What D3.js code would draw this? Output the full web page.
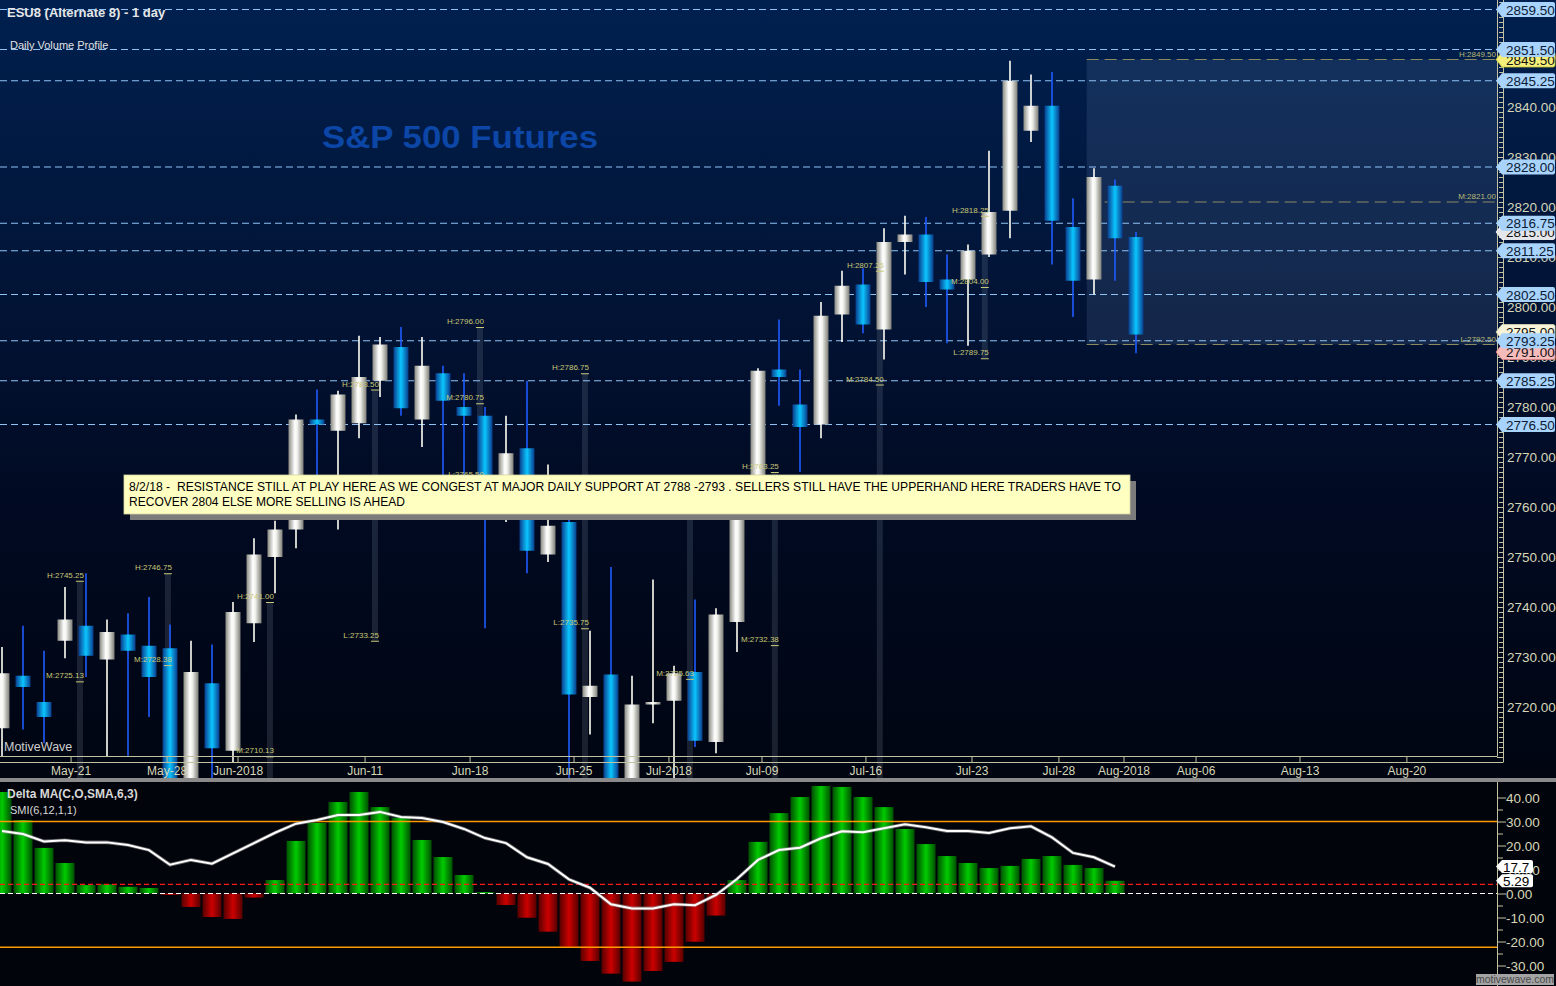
<!DOCTYPE html>
<html><head><meta charset="utf-8">
<script src="https://cdn.jsdelivr.net/npm/d3@7"></script>
<style>
html,body{margin:0;padding:0;background:#000;overflow:hidden;}
svg{display:block;font-family:"Liberation Sans",Arial,sans-serif;}
</style></head><body>
<svg id="chart" width="1556" height="986"></svg>
<script>
// ---------------- DATA ----------------
const dates = ["2018-05-16","2018-05-17","2018-05-18","2018-05-21","2018-05-22","2018-05-23","2018-05-24","2018-05-25","2018-05-29","2018-05-30","2018-05-31",
"2018-06-01","2018-06-04","2018-06-05","2018-06-06","2018-06-07","2018-06-08","2018-06-11","2018-06-12","2018-06-13","2018-06-14","2018-06-15","2018-06-18","2018-06-19","2018-06-20","2018-06-21","2018-06-22","2018-06-25","2018-06-26","2018-06-27","2018-06-28","2018-06-29",
"2018-07-02","2018-07-03","2018-07-05","2018-07-06","2018-07-09","2018-07-10","2018-07-11","2018-07-12","2018-07-13","2018-07-16","2018-07-17","2018-07-18","2018-07-19","2018-07-20","2018-07-23","2018-07-24","2018-07-25","2018-07-26","2018-07-27","2018-07-30","2018-07-31",
"2018-08-01","2018-08-02"];
const open  = [2715.75,2726.25,2721,2733.25,2736.25,2729.5,2734.5,2732.25,2731.75,2698,2724.75,2711.25,2736.75,2750,2755.5,2777.5,2775.25,2776.75,2785.25,2792,2777.5,2786.75,2780,2778.25,2761,2771.75,2750.5,2757,2722,2726.5,2700,2720.5,2721.25,2727,2713,2737,2764,2787.5,2780.5,2776.5,2798.5,2804.5,2795.5,2813,2814.5,2805.5,2805.5,2810.5,2819.25,2835.25,2840.25,2816,2805.5,2824.25,2814];
const high  = [2732,2736.25,2731.25,2744,2746.75,2737.5,2738.75,2742,2736.5,2733.25,2732.5,2741,2753.75,2757.25,2778.5,2783.5,2783.25,2794.25,2794,2796,2794,2788.25,2786.75,2780,2778.25,2785.25,2768.5,2760,2735.25,2748,2726.25,2745.5,2728.25,2741.5,2739.75,2764,2787.75,2797.5,2787.5,2801,2807.25,2807.75,2815.75,2818.25,2818,2810.5,2812.5,2831.25,2849.25,2846.5,2847,2821.75,2827.75,2825.5,2815];
const low   = [2710,2715.5,2712.75,2729.75,2726,2710,2710.25,2718,2695,2694,2702,2709,2733,2742.75,2751.75,2764,2755.5,2773.75,2782,2778.25,2772,2762,2765,2735.75,2757,2746.75,2749,2705,2714.5,2695,2696,2716.75,2705,2712,2710.75,2731,2762,2780.25,2767,2773.75,2793,2794.75,2789.5,2806.5,2800,2792.75,2792.25,2810,2813.75,2833,2808.5,2798,2802.5,2805.25,2790.75];
const close = [2726.75,2724,2718,2737.5,2730.25,2735,2731.25,2726,2700,2727,2711.75,2739,2750.5,2755.5,2777.5,2776.5,2782.5,2786,2792.5,2779.75,2788.25,2781.25,2778.25,2762.5,2770.75,2751.25,2756.25,2722.5,2724.25,2700,2720.5,2721,2726.75,2713.25,2738.5,2762,2787.25,2786,2776,2798.25,2804.25,2796.5,2813,2814.5,2805,2803.5,2811.25,2819,2845.25,2840.25,2817.25,2805.25,2826,2813.75,2794.5];

// Delta MA histogram and SMI line (lower panel)
const deltaMA = [42.3,30.6,19,12.7,3.5,3.8,2.8,2.3,-0.6,-5.6,-9.8,-10.6,-1.7,5.6,21.9,29.4,38.1,42.3,36,31.6,22.3,15.2,7.7,0.6,-4.8,-10.1,-15.9,-22.2,-28.1,-33.4,-36.7,-32.3,-28.5,-20.1,-9.2,5.6,21.5,33.5,40.2,44.8,44.4,40.2,36,26.9,20.6,15.6,12.7,10.6,11.5,14.4,15.6,11.9,10.6,5.29];
const smiLine = [26,24.8,21.7,22.2,21.3,21.3,20.2,18.1,12,14,12.4,16.7,21,25.3,29.1,30.6,32.7,32.7,34,31.9,31.5,29.8,26.9,23.1,21,15.1,12.3,5.9,2.4,-4.5,-6.2,-6.2,-4.5,-4.9,-0.6,6,14,18.1,19.1,23,25.9,25.5,27.2,28.8,27.6,26,26,25.2,27.2,28,23.4,16.9,15.1,11.2];
const smiTagLabel = "17.7";
const deltaTagLabel = "5.29";
const lowerGuideUpper = 30, lowerGuideLower = -22.4, lowerSignal = 3.8;
const lowerTicks = [40,30,20,10,0,-10,-20,-30];

// price axis
const priceTicks = [2720,2730,2740,2750,2760,2770,2780,2790,2800,2810,2820,2830,2840,2850];
const levelLines = [2859.5,2851.5,2845.25,2828,2816.75,2811.25,2802.5,2793.25,2785.25,2776.5];
const extraTagValues = [2849.5,2815,2795,2791];

// x axis labels (position in bar-index units)
const xTickLabels = ["May-21","May-28","Jun-2018","Jun-11","Jun-18","Jun-25","Jul-2018","Jul-09","Jul-16","Jul-23","Jul-28","Aug-2018","Aug-06","Aug-13","Aug-20"];
const xTickPos    = [3.29,7.86,11.24,17.29,22.29,27.24,31.76,36.19,41.14,46.19,50.33,53.43,56.86,61.81,66.9];

// volume profiles
const vpPos    = [3.71,7.9,12.76,17.76,22.76,27.76,32.76,36.8,41.8,46.8];
const vpTop    = [2745.25,2746.75,2741,2783.5,2796,2786.75,2760,2767,2807.25,2818.25];
const vpBottom = [2705,2705,2705,2733.25,2765.5,2705,2705,2705,2705,2789.75];
const vpMarkProfile = [0,0,1,1,2,2,3,3,4,4,4,5,5,6,7,7,8,8,9,9,9];
const vpMarkText  = ["H:2745.25","M:2725.13","H:2746.75","M:2728.38","H:2741.00","M:2710.13","H:2783.50","L:2733.25","H:2796.00","M:2780.75","L:2765.50","H:2786.75","L:2735.75","M:2725.63","H:2763.25","M:2732.38","H:2807.25","M:2784.50","H:2818.25","M:2804.00","L:2789.75"];
const vpMarkPrice = [2745.25,2725.13,2746.75,2728.38,2741,2710.13,2783.5,2733.25,2796,2780.75,2765.5,2786.75,2735.75,2725.63,2767,2732.38,2807.25,2784.5,2818.25,2804,2789.75];
const curVpStart = 51.65;
const curVpLevels = [2849.5,2821,2792.5];
const curVpText = ["H:2849.50","M:2821.00","L:2792.50"];

const titleText = "S&P 500 Futures";
const headerText = "ESU8 (Alternate 8) - 1 day";
const subHeaderText = "Daily Volume Profile";
const lowerTitle = "Delta MA(C,O,SMA,6,3)";
const lowerSub = "SMI(6,12,1,1)";
const noteLines = ["8/2/18 -  RESISTANCE STILL AT PLAY HERE AS WE CONGEST AT MAJOR DAILY SUPPORT AT 2788 -2793 . SELLERS STILL HAVE THE UPPERHAND HERE TRADERS HAVE TO",
                   "RECOVER 2804 ELSE MORE SELLING IS AHEAD"];

// ---------------- LAYOUT ----------------
const W = 1556, H = 986;
const PLOT_R = 1497, AXIS_X = 1503, UP_BOTTOM = 778;
const svg = d3.select('#chart');
const defs = svg.append('defs');

const x = d3.scaleLinear().domain([0, 54]).range([2, 1136]);
const y = d3.scaleLinear().domain([2710, 2840]).range([757, 107]);
const y2 = d3.scaleLinear().domain([-30, 40]).range([965.5, 797.5]);

function hgrad(id, stops){
  const g = defs.append('linearGradient').attr('id', id).attr('x1',0).attr('x2',1).attr('y1',0).attr('y2',0);
  stops.forEach(s => g.append('stop').attr('offset', s[0]).attr('stop-color', s[1]));
}
hgrad('gWhite', [[0,'#8a8a82'],[0.42,'#ffffff'],[0.58,'#f2f2ee'],[1,'#7e7e77']]);
hgrad('gBlue',  [[0,'#0a3c8c'],[0.5,'#0bc6ff'],[1,'#0a3c8c']]);
hgrad('gGreen', [[0,'#004f00'],[0.5,'#00cc00'],[1,'#004f00']]);
hgrad('gRed',   [[0,'#560000'],[0.5,'#cc0000'],[1,'#560000']]);
const bg = defs.append('linearGradient').attr('id','bgUp').attr('x1',0).attr('x2',0).attr('y1',0).attr('y2',1);
[[0,'#00204f'],[0.35,'#021538'],[0.65,'#010a22'],[1,'#000511']].forEach(s=>bg.append('stop').attr('offset',s[0]).attr('stop-color',s[1]));
defs.append('clipPath').attr('id','clipUp').append('rect').attr('x',0).attr('y',0).attr('width',PLOT_R).attr('height',UP_BOTTOM);
defs.append('clipPath').attr('id','clipLow').append('rect').attr('x',0).attr('y',782).attr('width',PLOT_R).attr('height',H-782);

// ---------------- UPPER PANEL ----------------
svg.append('rect').attr('x',0).attr('y',0).attr('width',W).attr('height',UP_BOTTOM).attr('fill','url(#bgUp)');
const up = svg.append('g').attr('clip-path','url(#clipUp)');

// current week volume profile box
up.append('rect').attr('x', x(curVpStart)).attr('y', y(curVpLevels[0]))
  .attr('width', PLOT_R - x(curVpStart)).attr('height', y(curVpLevels[2]) - y(curVpLevels[0]))
  .attr('fill','rgba(110,140,190,0.17)');

// volume profile columns
up.selectAll('rect.vp').data(vpPos).join('rect').attr('class','vp')
  .attr('x', d => x(d) - 3).attr('width', 6)
  .attr('y', (d,i) => y(vpTop[i])).attr('height', (d,i) => y(vpBottom[i]) - y(vpTop[i]))
  .attr('fill','rgba(120,130,150,0.22)');

// level lines
up.selectAll('line.lvl').data(levelLines).join('line').attr('class','lvl')
  .attr('x1',0).attr('x2',PLOT_R).attr('y1',d=>y(d)).attr('y2',d=>y(d))
  .attr('stroke','#8fc3f5').attr('stroke-width',1).attr('stroke-dasharray','7,4');
up.selectAll('line.cvp').data(curVpLevels).join('line').attr('class','cvp')
  .attr('x1',x(curVpStart)).attr('x2',PLOT_R).attr('y1',d=>y(d)).attr('y2',d=>y(d))
  .attr('stroke','#8b8b62').attr('stroke-width',1.2).attr('stroke-dasharray','12,6');

// title
up.append('text').attr('x',322).attr('y',148).text(titleText)
  .attr('font-size',32).attr('font-weight','bold').attr('fill','#0c46a6')
  .attr('textLength',276).attr('lengthAdjust','spacingAndGlyphs');

// x axis frame, ticks, labels (drawn before candles; candles overlap them)
svg.append('line').attr('x1',0).attr('x2',PLOT_R).attr('y1',756.5).attr('y2',756.5).attr('stroke','#c2c2a2');
svg.append('line').attr('x1',0).attr('x2',AXIS_X).attr('y1',762.5).attr('y2',762.5).attr('stroke','#c2c2a2');
svg.selectAll('line.xt').data(xTickPos).join('line').attr('class','xt')
  .attr('x1',d=>x(d)).attr('x2',d=>x(d)).attr('y1',756).attr('y2',762).attr('stroke','#c2c2a2');
svg.selectAll('text.xl').data(xTickLabels).join('text').attr('class','xl')
  .attr('x',(d,i)=>x(xTickPos[i])).attr('y',775).attr('text-anchor','middle')
  .attr('font-size',12).attr('fill','#d6d6b8').text(d=>d);

// candles
const candles = dates.map((d,i)=>({i, o:open[i], h:high[i], l:low[i], c:close[i], up: close[i] >= open[i]}));
up.selectAll('line.wick').data(candles).join('line').attr('class','wick')
  .attr('x1',d=>x(d.i)).attr('x2',d=>x(d.i)).attr('y1',d=>y(d.h)).attr('y2',d=>y(d.l))
  .attr('stroke',d=>d.up?'#fffff4':'#1f5cff').attr('stroke-width',1.6);
up.selectAll('rect.body').data(candles).join('rect').attr('class','body')
  .attr('x',d=>x(d.i)-7.5).attr('width',15)
  .attr('y',d=>y(Math.max(d.o,d.c))).attr('height',d=>Math.max(2.5, Math.abs(y(d.o)-y(d.c))))
  .attr('fill',d=>d.up?'url(#gWhite)':'url(#gBlue)');

// volume profile marks + labels
const marks = vpMarkText.map((t,k)=>({t, p: vpMarkPrice[k], xi: vpPos[vpMarkProfile[k]]}));
up.selectAll('line.vpm').data(marks).join('line').attr('class','vpm')
  .attr('x1',d=>x(d.xi)-4).attr('x2',d=>x(d.xi)+4).attr('y1',d=>y(d.p)+0.5).attr('y2',d=>y(d.p)+0.5)
  .attr('stroke','#c9c877').attr('stroke-width',1);
up.selectAll('text.vpl').data(marks).join('text').attr('class','vpl')
  .attr('x',d=>x(d.xi)+4).attr('y',d=>y(d.p)-3).attr('text-anchor','end')
  .attr('font-size',8).attr('fill','#c9c877').text(d=>d.t);
up.selectAll('text.cvl').data(curVpText).join('text').attr('class','cvl')
  .attr('x',PLOT_R-1).attr('y',(d,i)=>y(curVpLevels[i])-3).attr('text-anchor','end')
  .attr('font-size',8).attr('fill','#b9b873').text(d=>d);

// annotation note
const note = svg.append('g');
note.append('rect').attr('x',130).attr('y',481).attr('width',1006).attr('height',39).attr('fill','#7c7c7c');
note.append('rect').attr('x',124).attr('y',475).attr('width',1006).attr('height',39).attr('fill','#ffffc2').attr('stroke','#d8d8a0').attr('stroke-width',0.8);
const noteLen = [992, 276];
note.selectAll('text').data(noteLines).join('text')
  .attr('x',129).attr('y',(d,i)=>491+i*15).attr('font-size',12.2).attr('fill','#000')
  .attr('textLength',(d,i)=>noteLen[i]).attr('lengthAdjust','spacingAndGlyphs')
  .style('white-space','pre').text(d=>d);

// header texts
svg.append('text').attr('x',7).attr('y',17).text(headerText).attr('font-size',13).attr('font-weight','bold').attr('fill','#e6e6e6');
svg.append('text').attr('x',10).attr('y',49).text(subHeaderText).attr('font-size',11).attr('fill','#e0e0e0');
svg.append('text').attr('x',4).attr('y',751).text('MotiveWave').attr('font-size',12.5).attr('fill','#cfcfcf');

// right price axis
svg.append('line').attr('x1',PLOT_R+0.5).attr('x2',PLOT_R+0.5).attr('y1',0).attr('y2',756.5).attr('stroke','#c2c2a2');
svg.append('line').attr('x1',AXIS_X+0.5).attr('x2',AXIS_X+0.5).attr('y1',0).attr('y2',762.5).attr('stroke','#c2c2a2');
const minor = d3.range(2710, 2862, 1);
svg.selectAll('line.pt').data(minor).join('line').attr('class','pt')
  .attr('x1',d=> d%10===0 ? PLOT_R : AXIS_X-4).attr('x2',AXIS_X).attr('y1',d=>y(d)+0.5).attr('y2',d=>y(d)+0.5)
  .attr('stroke','#c2c2a2').attr('stroke-width',1);
svg.selectAll('text.pl').data(priceTicks).join('text').attr('class','pl')
  .attr('x',1507).attr('y',d=>y(d)+5).attr('font-size',13.5).attr('fill','#d6d6b8').text(d=>d.toFixed(2));

function tagPath(yy, x0, x1, hh){
  return `M${x0},${yy} L${x0+6},${yy-hh} L${x1-2},${yy-hh} Q${x1},${yy-hh} ${x1},${yy-hh+2} L${x1},${yy+hh-2} Q${x1},${yy+hh} ${x1-2},${yy+hh} L${x0+6},${yy+hh} Z`;
}
const extraTagFill = ['#f4ef7a','#e4e6ea','#f6f3da','#f6bcbc'];
const extraTagStroke = ['#c8c030','#ffffff','#d8d8b0','#e08080'];
const tags = svg.append('g');
extraTagValues.forEach((v,i)=>{
  tags.append('path').attr('d',tagPath(y(v),1496,1555,7.5)).attr('fill',extraTagFill[i]).attr('stroke',extraTagStroke[i]).attr('stroke-width',0.8);
  tags.append('text').attr('x',1506).attr('y',y(v)+5).attr('font-size',13.5).attr('fill','#111').text(v.toFixed(2));
});
levelLines.forEach(v=>{
  tags.append('path').attr('d',tagPath(y(v),1496,1555,7.5)).attr('fill','#a8d3fd');
  tags.append('text').attr('x',1506).attr('y',y(v)+5).attr('font-size',13.5).attr('fill','#0b1a33').text(v.toFixed(2));
});

// separator
svg.append('rect').attr('x',0).attr('y',UP_BOTTOM).attr('width',W).attr('height',4).attr('fill','#8a8a8a');

// ---------------- LOWER PANEL ----------------
svg.append('rect').attr('x',0).attr('y',782).attr('width',W).attr('height',H-782).attr('fill','#02040b');
const low_ = svg.append('g').attr('clip-path','url(#clipLow)');
const hd = deltaMA.map((v,i)=>({i,v}));
low_.selectAll('rect.h').data(hd).join('rect').attr('class','h')
  .attr('x',d=>x(d.i)-9.5).attr('width',19)
  .attr('y',d=>Math.min(y2(0),y2(d.v))).attr('height',d=>Math.max(1,Math.abs(y2(d.v)-y2(0))))
  .attr('fill',d=>d.v>=0?'url(#gGreen)':'url(#gRed)');
[lowerGuideUpper, lowerGuideLower].forEach(v=>{
  low_.append('line').attr('x1',0).attr('x2',PLOT_R).attr('y1',y2(v)).attr('y2',y2(v)).attr('stroke','#ff9900').attr('stroke-width',1.5);
});
low_.append('line').attr('x1',0).attr('x2',PLOT_R).attr('y1',y2(0)).attr('y2',y2(0)).attr('stroke','#ffffff').attr('stroke-width',1.2).attr('stroke-dasharray','5,3');
low_.append('line').attr('x1',0).attr('x2',PLOT_R).attr('y1',y2(lowerSignal)).attr('y2',y2(lowerSignal)).attr('stroke','#ff1a1a').attr('stroke-width',1.2).attr('stroke-dasharray','5,3');
const ln = d3.line().x((d,i)=>x(i)).y(d=>y2(d));
low_.append('path').attr('d',ln(smiLine)).attr('fill','none').attr('stroke','#9a9a9a').attr('stroke-width',3.6).attr('opacity',0.6);
low_.append('path').attr('d',ln(smiLine)).attr('fill','none').attr('stroke','#ffffff').attr('stroke-width',2);

svg.append('text').attr('x',7).attr('y',798).text(lowerTitle).attr('font-size',12).attr('font-weight','bold').attr('fill','#d8d8d8');
svg.append('text').attr('x',10).attr('y',814).text(lowerSub).attr('font-size',11).attr('fill','#d8d8d8');

// lower axis
svg.append('line').attr('x1',PLOT_R+0.5).attr('x2',PLOT_R+0.5).attr('y1',782).attr('y2',H).attr('stroke','#c2c2a2');
svg.selectAll('line.lt').data(d3.range(-30,45,5)).join('line').attr('class','lt')
  .attr('x1',PLOT_R).attr('x2',d=>d%10===0?AXIS_X+3:AXIS_X).attr('y1',d=>y2(d)+0.5).attr('y2',d=>y2(d)+0.5).attr('stroke','#c2c2a2');
svg.selectAll('text.ll').data(lowerTicks).join('text').attr('class','ll')
  .attr('x',1506).attr('y',d=>y2(d)+5).attr('font-size',13.5).attr('fill','#d6d6b8').text(d=>d.toFixed(2));
const lastI = smiLine.length-1;
[[smiLine[lastI], smiTagLabel],[deltaMA[deltaMA.length-1], deltaTagLabel]].forEach(([v,t])=>{
  svg.append('path').attr('d',tagPath(y2(v),1496,1533,6.5)).attr('fill','#ffffff');
  svg.append('text').attr('x',1503).attr('y',y2(v)+5).attr('font-size',13.5).attr('fill','#000').text(t);
});
// watermark
svg.append('rect').attr('x',1476).attr('y',974).attr('width',78).attr('height',11).attr('fill','#a3a3a3');
svg.append('text').attr('x',1515).attr('y',983).attr('text-anchor','middle').attr('font-size',10.5).attr('fill','#4a4a4a').text('motivewave.com');
</script>
</body></html>
